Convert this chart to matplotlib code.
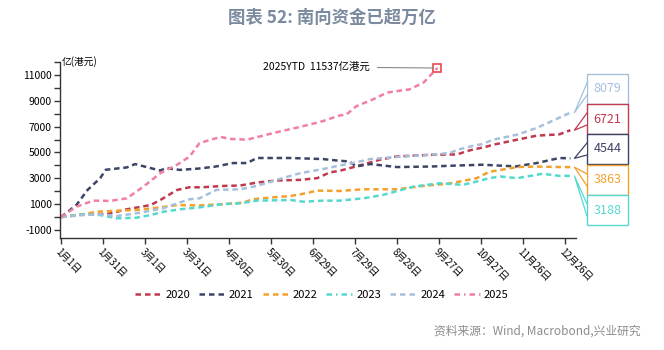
import matplotlib
matplotlib.use("Agg")
import matplotlib.pyplot as plt
from matplotlib.lines import Line2D
from matplotlib.patches import Rectangle, Polygon

plt.rcParams['font.family'] = ['Noto Sans CJK SC', 'DejaVu Sans']

title = "图表 52: 南向资金已超万亿"
source = "资料来源：Wind, Macrobond,兴业研究"
ylabel = "亿(港元)"
tick_days = [0, 30, 60, 90, 120, 150, 180, 210, 240, 270, 300, 330, 360]
tick_labels = ["1月1日", "1月31日", "3月1日", "3月31日", "4月30日", "5月30日", "6月29日",
               "7月29日", "8月28日", "9月27日", "10月27日", "11月26日", "12月26日"]
y_ticks = list(range(-1000, 12001, 1000))
y_labels = [str(t) if (t // 1000) % 2 else "" for t in y_ticks]

d2020 = [0, 16, 33, 47, 64, 71, 83, 92, 100, 116, 128, 140, 154, 171, 183, 192, 199, 211, 228, 240, 264, 283, 292, 304, 309, 326, 340, 356, 364]
v2020 = [0, 210, 230, 600, 930, 1320, 2100, 2310, 2300, 2410, 2440, 2670, 2830, 2880, 3010, 3450, 3580, 3920, 4440, 4690, 4820, 4850, 5160, 5450, 5600, 5990, 6300, 6400, 6721]

d2021 = [0, 11, 19, 28, 32, 47, 53, 64, 71, 75, 85, 98, 110, 123, 133, 140, 164, 187, 197, 206, 211, 221, 240, 264, 278, 301, 325, 340, 356, 364]
v2021 = [0, 930, 2100, 3010, 3660, 3840, 4100, 3790, 3600, 3790, 3650, 3750, 3900, 4180, 4180, 4570, 4570, 4490, 4380, 4300, 3920, 4100, 3870, 3910, 3970, 4050, 3920, 4180, 4570, 4544]

d2022 = [0, 16, 25, 40, 54, 71, 83, 99, 116, 123, 130, 137, 152, 164, 175, 183, 199, 216, 240, 259, 278, 297, 306, 326, 340, 356, 364]
v2022 = [0, 210, 410, 490, 545, 750, 930, 900, 1000, 1060, 1110, 1380, 1530, 1630, 1840, 2050, 2020, 2150, 2150, 2410, 2600, 3010, 3500, 3870, 3910, 3870, 3863]

d2023 = [0, 16, 28, 40, 54, 64, 73, 85, 99, 116, 128, 140, 164, 173, 187, 199, 216, 230, 252, 271, 287, 297, 306, 314, 326, 344, 356, 364]
v2023 = [0, 210, 155, -100, -50, 155, 410, 600, 750, 1010, 1060, 1270, 1320, 1190, 1270, 1270, 1450, 1710, 2360, 2620, 2490, 2750, 3010, 3140, 3010, 3350, 3190, 3188]

d2024 = [0, 16, 28, 40, 54, 64, 73, 83, 92, 99, 111, 128, 140, 154, 171, 187, 199, 206, 221, 240, 264, 278, 283, 294, 301, 309, 326, 340, 349, 364]
v2024 = [0, 155, 210, 80, 290, 490, 680, 1060, 1380, 1450, 2100, 2150, 2410, 2880, 3400, 3710, 3990, 4120, 4490, 4650, 4820, 4960, 5200, 5500, 5650, 5990, 6380, 6900, 7340, 8079]

d2025 = [0, 11, 23, 35, 47, 59, 71, 83, 92, 99, 114, 121, 133, 152, 171, 187, 199, 204, 211, 223, 233, 240, 249, 259, 269]
v2025 = [0, 800, 1270, 1250, 1450, 2360, 3400, 4050, 4690, 5730, 6200, 6050, 5990, 6510, 6980, 7420, 7860, 7940, 8580, 9110, 9630, 9750, 9880, 10400, 11537]

years = ["2020", "2021", "2022", "2023", "2024", "2025"]
colors = ["#c0394f", "#3d4566", "#f2a12e", "#55d8d0", "#a6c0dc", "#f07fa2"]
days = [d2020, d2021, d2022, d2023, d2024, d2025]
vals = [v2020, v2021, v2022, v2023, v2024, v2025]
ytd_text = "2025YTD  11537亿港元"

W, H = 664, 350
fig = plt.figure(figsize=(W / 100, H / 100), dpi=100)
ax = fig.add_axes([60 / W, 1 - 238 / H, (576 - 60) / W, (238 - 62) / H])

def fx(px):
    return px / W

def fy(py):
    return 1 - py / H

for d, v, c in zip(days, vals, colors):
    ax.plot(d, v, color=c, lw=1.8, dashes=(2.2, 1.5), dash_capstyle='butt')

ax.set_xlim(-0.7, 368)
ax.set_ylim(-1620, 12000)
ax.set_yticks(y_ticks)
ax.set_yticklabels(y_labels, fontsize=7.5)
ax.set_xticks(tick_days)
ax.set_xticklabels(tick_labels, rotation=-45, ha='left', va='top', fontsize=7,
                   rotation_mode='anchor')
ax.tick_params(axis='both', direction='out', length=4, width=1, color='#333333', pad=2)
for s in ['top', 'right']:
    ax.spines[s].set_visible(False)
for s in ['left', 'bottom']:
    ax.spines[s].set_color('#333333')
    ax.spines[s].set_linewidth(1)

ax.text(0.004, 1.0, ylabel, transform=ax.transAxes, fontsize=7, ha='left', va='center')

# annotation for 2025
ax.plot([d2025[-1]], [v2025[-1]], marker='s', ms=6, mfc='none', mec='#e8474f', mew=1.2)
ax.annotate(ytd_text, xy=(d2025[-1] - 3, v2025[-1]), xytext=(144, v2025[-1] + 80),
            fontsize=7.5, ha='left', va='center',
            arrowprops=dict(arrowstyle='-', color='#888888', lw=0.8,
                            shrinkA=4, shrinkB=0))

# title & source
fig.text(0.5, fy(18), title, ha='center', va='center', fontsize=12.5,
         fontweight='bold', color='#7b8a9e')
fig.text(fx(641), fy(331), source, ha='right', va='center', fontsize=8.5, color='#8c8c8c')

# legend
handles = []
for y, c in zip(years, colors):
    if y in ("2023", "2025"):
        h = Line2D([], [], color=c, lw=1.8, dashes=(2.2, 1.6, 0.6, 1.6))
    else:
        h = Line2D([], [], color=c, lw=1.8, dashes=(2.2, 1.6))
    handles.append(h)
fig.legend(handles, years, loc='center', bbox_to_anchor=(fx(322), fy(295)), ncol=6,
           frameon=False, fontsize=8, handlelength=2.4, handletextpad=0.3,
           columnspacing=0.8)

# right-side value boxes
order = [4, 0, 1, 2, 3]
box_tops = [74, 104, 134, 165, 195]
box_h = 30
bx0, bx1 = 587, 628
fig.canvas.draw()
inv = fig.transFigure.inverted()
for k, top in zip(order, box_tops):
    c = colors[k]
    end_disp = ax.transData.transform((days[k][-1], vals[k][-1]))
    tipx, tipy = inv.transform((end_disp[0] + 4, end_disp[1]))
    yc = top + box_h / 2
    rect = Rectangle((fx(bx0), fy(top + box_h)), fx(bx1 - bx0), box_h / H,
                     transform=fig.transFigure, facecolor='white', edgecolor=c,
                     lw=1.0, zorder=3)
    fig.add_artist(rect)
    b1 = (fx(bx0), fy(yc - 6))
    b2 = (fx(bx0), fy(yc + 6))
    poly = Polygon([b1, (tipx, tipy), b2], closed=True, transform=fig.transFigure,
                   facecolor='white', edgecolor='none', zorder=4)
    fig.add_artist(poly)
    fig.add_artist(Line2D([b1[0], tipx, b2[0]], [b1[1], tipy, b2[1]],
                          transform=fig.transFigure, color=c, lw=0.9, zorder=5))
    fig.text(fx((bx0 + bx1) / 2), fy(yc), str(vals[k][-1]), ha='center', va='center',
             fontsize=9, color=c, zorder=6)

fig.savefig("out.png", dpi=100)
